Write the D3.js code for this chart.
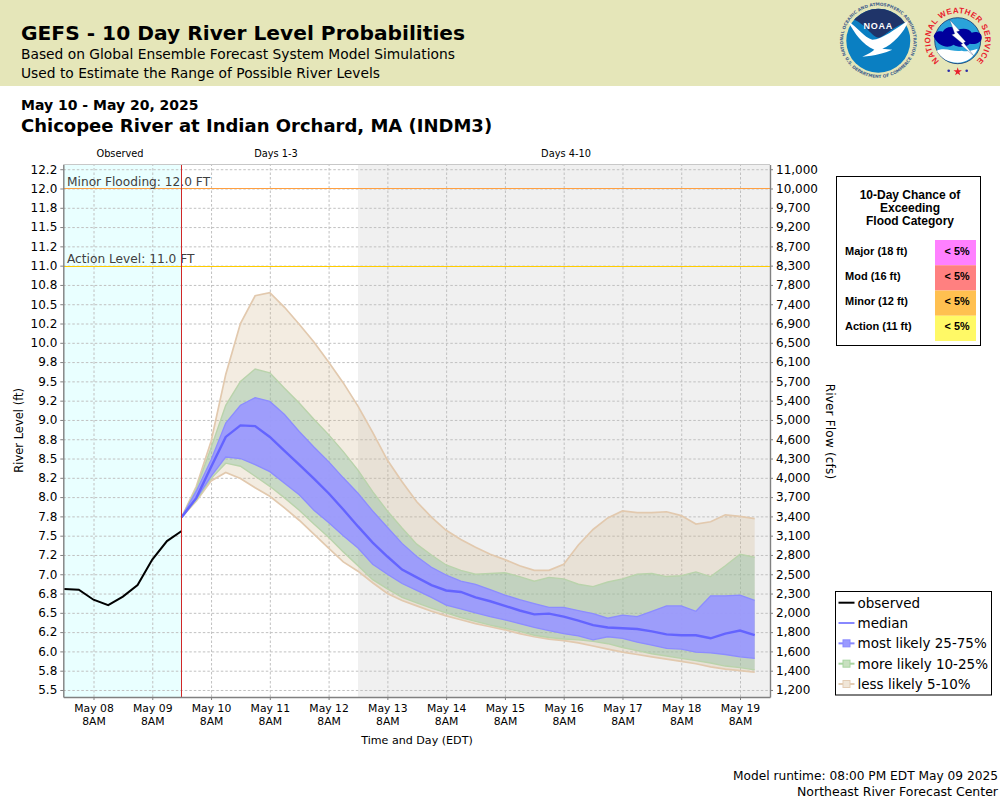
<!DOCTYPE html>
<html><head><meta charset="utf-8">
<script src="https://cdnjs.cloudflare.com/ajax/libs/d3/7.8.5/d3.min.js"></script>
<style>
html,body{margin:0;padding:0;background:#fff}
svg{display:block;font-family:"DejaVu Sans",sans-serif}
</style></head><body>
<svg id="c" width="1000" height="800" viewBox="0 0 1000 800"></svg>
<script>
const levelTicks = [12.25,12,11.75,11.5,11.25,11,10.75,10.5,10.25,10,9.75,9.5,9.25,9,8.75,8.5,8.25,8,7.75,7.5,7.25,7,6.75,6.5,6.25,6,5.75,5.5];
const levelLabels = ["12.2","12.0","11.8","11.5","11.2","11.0","10.8","10.5","10.2","10.0","9.8","9.5","9.2","9.0","8.8","8.5","8.2","8.0","7.8","7.5","7.2","7.0","6.8","6.5","6.2","6.0","5.8","5.5"];
const flowLabels = ["11,000","10,000","9,700","9,200","8,700","8,300","7,800","7,400","6,900","6,500","6,100","5,700","5,400","5,000","4,600","4,300","4,000","3,700","3,400","3,100","2,800","2,500","2,300","2,000","1,800","1,600","1,400","1,200"];
const observed = [6.81,6.80,6.67,6.60,6.71,6.86,7.19,7.43,7.56];
const median = [7.74,7.99,8.39,8.78,8.93,8.92,8.78,8.60,8.42,8.24,8.05,7.84,7.62,7.41,7.23,7.06,6.96,6.86,6.79,6.77,6.70,6.65,6.59,6.53,6.48,6.49,6.45,6.40,6.34,6.31,6.30,6.29,6.26,6.22,6.21,6.21,6.17,6.23,6.27,6.21];
const blueHigh = [7.74,8.08,8.48,8.96,9.19,9.29,9.24,9.07,8.85,8.65,8.46,8.25,8.05,7.82,7.61,7.40,7.23,7.09,6.99,6.91,6.87,6.80,6.73,6.67,6.62,6.57,6.57,6.53,6.49,6.43,6.47,6.45,6.52,6.59,6.59,6.52,6.72,6.72,6.73,6.66];
const blueLow = [7.74,7.98,8.27,8.52,8.50,8.42,8.33,8.18,8.03,7.83,7.67,7.50,7.34,7.13,7.00,6.88,6.79,6.70,6.60,6.55,6.50,6.45,6.41,6.36,6.31,6.27,6.23,6.20,6.15,6.19,6.17,6.12,6.08,6.04,6.03,5.99,5.98,5.96,5.93,5.91];
const greenHigh = [7.74,8.11,8.64,9.19,9.50,9.66,9.61,9.41,9.22,9.01,8.81,8.59,8.35,8.07,7.82,7.60,7.39,7.25,7.12,7.05,7.00,7.01,7.02,6.97,6.91,6.96,6.94,6.87,6.84,6.90,6.94,7.00,7.01,6.97,6.98,7.03,6.97,7.11,7.26,7.22];
const greenLow = [7.74,7.96,8.24,8.44,8.40,8.27,8.14,7.99,7.83,7.65,7.48,7.29,7.11,6.93,6.81,6.70,6.63,6.56,6.50,6.44,6.39,6.34,6.30,6.26,6.21,6.18,6.16,6.15,6.13,6.10,6.05,6.01,5.97,5.94,5.91,5.88,5.85,5.81,5.79,5.76];
const tanHigh = [7.74,8.14,8.72,9.59,10.25,10.61,10.65,10.46,10.24,10.01,9.75,9.48,9.18,8.84,8.48,8.20,7.94,7.74,7.57,7.45,7.35,7.26,7.19,7.11,7.05,7.05,7.13,7.38,7.58,7.73,7.82,7.80,7.80,7.81,7.76,7.65,7.68,7.77,7.75,7.72];
const tanLow = [7.74,7.95,8.21,8.32,8.24,8.12,8.01,7.86,7.70,7.52,7.34,7.16,7.04,6.89,6.75,6.66,6.59,6.52,6.46,6.41,6.36,6.32,6.28,6.23,6.19,6.16,6.14,6.11,6.07,6.03,5.99,5.96,5.93,5.90,5.87,5.84,5.80,5.77,5.75,5.73];
const zoneLabels = ["Observed","Days 1-3","Days 4-10"];
const floodRows = ["Major (18 ft)","Mod (16 ft)","Minor (12 ft)","Action (11 ft)"];
const floodChance = ["< 5%","< 5%","< 5%","< 5%"];
const legendNames = ["observed","median","most likely 25-75%","more likely 10-25%","less likely 5-10%"];

const svg = d3.select("#c");
const HOUR = 3600e3, STEP = 6*HOUR;
const tObs0 = Date.UTC(2025,4,7,20), tNow = Date.UTC(2025,4,9,20), tGrey = Date.UTC(2025,4,12,20);
const L=63.3,R=770,T=164.5,B=697;
const x = d3.scaleUtc().domain([new Date(Date.UTC(2025,4,7,19,40)), new Date(Date.UTC(2025,4,19,20,15))]).range([L,R]);
const y = d3.scaleLinear().domain([5.409,12.311]).range([B,T]);
const dayTicks = d3.range(8,20).map(d=>new Date(Date.UTC(2025,4,d,8)));
const tObs = i=>new Date(tObs0+i*STEP), tFc = i=>new Date(tNow+i*STEP);

// header
svg.append("rect").attr("width",1000).attr("height",86).attr("fill","#e5e6b9");
const txt=(s,xx,yy,size,weight,anchor)=>svg.append("text").attr("x",xx).attr("y",yy).attr("font-size",size).attr("font-weight",weight||"normal").attr("text-anchor",anchor||"start").attr("fill","#000").text(s);
txt("GEFS - 10 Day River Level Probabilities",21,40,20.2,"bold");
txt("Based on Global Ensemble Forecast System Model Simulations",21,59,13.8);
txt("Used to Estimate the Range of Possible River Levels",21,78,13.8);
txt("May 10 - May 20, 2025",21,110,14,"bold");
txt("Chicopee River at Indian Orchard, MA (INDM3)",21,131.5,18,"bold");

// logos
const noaa = svg.append("g").attr("transform","translate(878.3,40.7)");
const defs = svg.append("defs");
defs.append("clipPath").attr("id","noaaClip").append("circle").attr("r",32);
defs.append("path").attr("id","noaaTop").attr("d","M-31.5,16 A35.2,35.2 0 1 1 31.5,16");
defs.append("path").attr("id","noaaBot").attr("d","M-35,14 A38,38 0 0 0 35,14");
noaa.append("circle").attr("r",32).attr("fill","#0a7fc2");
noaa.append("path").attr("clip-path","url(#noaaClip)").attr("fill","#1f3469").attr("d","M-34,-34H34V-20C18,-18 8,-5 0,-3C-8,-5 -15,-20 -28,-22Z");
noaa.append("path").attr("fill","#fff").attr("d","M-30,-19C-22,-15 -14,-3 -6,-1C4,-1 18,-13 30,-20C26,-8 14,4 4,8L14,9C8,12 -4,15 -16,16C-10,13 -6,11 -4,9C-16,4 -24,-8 -30,-19Z");
noaa.append("text").attr("y",-11.5).attr("text-anchor","middle").attr("font-family","Liberation Sans").attr("font-size",9).attr("font-weight","bold").attr("letter-spacing",.8).attr("fill","#fff").text("NOAA");
noaa.append("text").attr("font-size",4.3).attr("fill","#44608c").attr("font-weight","bold").append("textPath").attr("href","#noaaTop").attr("startOffset","50%").attr("text-anchor","middle").text("NATIONAL OCEANIC AND ATMOSPHERIC ADMINISTRATION");
noaa.append("text").attr("font-size",4.3).attr("fill","#44608c").attr("font-weight","bold").append("textPath").attr("href","#noaaBot").attr("startOffset","50%").attr("text-anchor","middle").text("U.S. DEPARTMENT OF COMMERCE");

const nws = svg.append("g").attr("transform","translate(957.7,40.7)");
defs.append("path").attr("id","nwsArc").attr("d","M-12.5,24.5 A27.5,27.5 0 1 1 12.5,24.5");
nws.append("circle").attr("r",23).attr("fill","#2aa3da").attr("stroke","#12326e").attr("stroke-width",.8);
nws.append("path").attr("fill","#fff").attr("d","M-21,10C-12,6 -4,12 4,10C10,12 16,9 20,8C16,17 8,22 0,22C-10,22 -17,17 -21,10Z");
nws.append("path").attr("fill","#00009c").attr("d","M-24,-4C-23,-9 -19,-10 -15,-9C-12,-15 -4,-15 0,-11C6,-13 12,-12 14,-8C20,-10 25,-7 24,-2C23,2 18,4 12,3C8,7 0,7 -4,4C-10,8 -19,6 -24,-4Z");
nws.append("path").attr("fill","#fff").attr("stroke","#12326e").attr("stroke-width",.3).attr("d","M-8,-21L2,-10L-1,-9L8,1L6,2L16,15L3,4L5,3L-6,-6L-3,-7Z");
nws.append("text").attr("font-family","Liberation Sans").attr("font-size",8).attr("font-weight","bold").attr("fill","#e8202c").attr("letter-spacing",.5).append("textPath").attr("href","#nwsArc").attr("startOffset","50%").attr("text-anchor","middle").text("NATIONAL WEATHER SERVICE");
nws.append("path").attr("fill","#e8202c").attr("transform","translate(0,31)").attr("d",d3.symbol(d3.symbolStar,22)());
nws.selectAll("circle.dot").data([-9,9]).join("circle").attr("cx",d=>d).attr("cy",30).attr("r",1.3).attr("fill","#2a2aa8");

// zones
svg.append("rect").attr("x",L).attr("y",T).attr("width",R-L).attr("height",B-T).attr("fill","#fff");
svg.append("rect").attr("x",L).attr("y",T).attr("width",x(new Date(tNow))-L).attr("height",B-T).attr("fill","#e9ffff");
svg.append("rect").attr("x",x(new Date(tGrey))).attr("y",T).attr("width",R-x(new Date(tGrey))).attr("height",B-T).attr("fill","#f0f0f0");

// grid
const gridStyle=g=>{g.select(".domain").remove();g.selectAll("text").remove();g.selectAll("line").attr("stroke","#c0c0c0").attr("stroke-width",1).attr("stroke-dasharray","2.5,2");};
svg.append("g").attr("transform",`translate(${L},0)`).call(d3.axisLeft(y).tickValues(levelTicks).tickSize(-(R-L))).call(gridStyle);
svg.append("g").attr("transform",`translate(0,${B})`).call(d3.axisBottom(x).tickValues(dayTicks).tickSize(-(B-T))).call(gridStyle);

// bands
const band=(hi,lo)=>d3.area().x((d,i)=>x(tFc(i))).y1((d,i)=>y(hi[i])).y0((d,i)=>y(lo[i]))(hi);
const line=(vals,tf)=>d3.line().x((d,i)=>x(tf(i))).y(d=>y(d))(vals);
const drawBand=(hi,lo,fill,op,edge,w)=>{
  svg.append("path").attr("d",band(hi,lo)).attr("fill",fill).attr("fill-opacity",op);
  [hi,lo].forEach(s=>svg.append("path").attr("d",line(s,tFc)).attr("fill","none").attr("stroke",edge).attr("stroke-width",w));
};
drawBand(tanHigh,tanLow,"#d2b48c",.26,"#e2c9ae",1.7);
drawBand(greenHigh,greenLow,"#8cbea0",.42,"#b9d3ab",1.4);
drawBand(blueHigh,blueLow,"#9a98ff",.92,"#8c8cff",1.3);
svg.append("path").attr("d",line(median,tFc)).attr("fill","none").attr("stroke","#6464ff").attr("stroke-width",2.4);
svg.append("path").attr("d",line(observed,tObs)).attr("fill","none").attr("stroke","#000").attr("stroke-width",2);

// flood lines (the 0.5 matches the half-pixel offset d3 gives the axis ticks)
[[12,"#ff9f40"],[11,"#ffcc00"]].forEach(([v,c])=>{
  svg.append("line").attr("x1",L).attr("x2",R).attr("y1",y(v)+.5).attr("y2",y(v)+.5).attr("stroke",c).attr("stroke-width",1).attr("shape-rendering","crispEdges");
});
svg.append("text").attr("x",67).attr("y",y(12)-2.5).attr("font-size",12.2).attr("fill","#404040").text("Minor Flooding: 12.0 FT");
svg.append("text").attr("x",67).attr("y",y(11)-2.5).attr("font-size",12.2).attr("fill","#404040").text("Action Level: 11.0 FT");
svg.append("line").attr("x1",x(new Date(tNow))).attr("x2",x(new Date(tNow))).attr("y1",T).attr("y2",B).attr("stroke","#d02828").attr("stroke-width",1).attr("shape-rendering","crispEdges");

// axes
const axisStyle=g=>{g.select(".domain").attr("stroke","#808080").attr("stroke-width",1.4);g.selectAll("line").attr("stroke","#808080");g.selectAll("text").attr("fill","#000").attr("font-family","DejaVu Sans");};
const flowOf = v=>flowLabels[levelTicks.indexOf(v)], levelOf = v=>levelLabels[levelTicks.indexOf(v)];
svg.append("g").attr("transform",`translate(${L},0)`).call(d3.axisLeft(y).tickValues(levelTicks).tickFormat(levelOf).tickSize(3).tickSizeOuter(0).tickPadding(3)).call(axisStyle).selectAll("text").attr("font-size",12);
svg.append("g").attr("transform",`translate(${R},0)`).call(d3.axisRight(y).tickValues(levelTicks).tickFormat(flowOf).tickSize(3).tickSizeOuter(0).tickPadding(3)).call(axisStyle).selectAll("text").attr("font-size",12);
const xg = svg.append("g").attr("transform",`translate(0,${B})`).call(d3.axisBottom(x).tickValues(dayTicks).tickFormat(d3.utcFormat("%b %d")).tickSize(3).tickSizeOuter(0).tickPadding(4.5)).call(axisStyle);
xg.selectAll("text").attr("font-size",10.8).each(function(){
  const t=d3.select(this), s=t.text(), yy=t.attr("y"); t.text(null);
  t.append("tspan").attr("x",0).attr("y",yy).attr("dy","0.71em").text(s);
  t.append("tspan").attr("x",0).attr("y",yy).attr("dy","1.9em").text("8AM");
});
svg.append("line").attr("x1",L).attr("x2",R).attr("y1",T).attr("y2",T).attr("stroke","#c8c8c8");

// labels
[[zoneLabels[0],120],[zoneLabels[1],276],[zoneLabels[2],566]].forEach(([s,xx])=>txt(s,xx,157,9.8,"normal","middle"));
txt("Time and Day (EDT)",417,744,11.1,"normal","middle");
svg.append("text").attr("transform","translate(22.5,430.4) rotate(-90)").attr("text-anchor","middle").attr("font-size",11.5).text("River Level (ft)");
svg.append("text").attr("transform","translate(826,431.5) rotate(90)").attr("text-anchor","middle").attr("font-size",12).attr("letter-spacing",.2).text("River Flow (cfs)");
txt("Model runtime: 08:00 PM EDT May 09 2025",998,780,12.2,"normal","end");
txt("Northeast River Forecast Center",998,796,12.5,"normal","end");

// flood-chance box
svg.append("rect").attr("x",836.5).attr("y",176.5).attr("width",144).attr("height",169).attr("fill","#fff").attr("stroke","#000").attr("stroke-width",1);
const sansB="Liberation Sans";
["10-Day Chance of","Exceeding","Flood Category"].forEach((s,i)=>{
  svg.append("text").attr("x",910).attr("y",198.7+i*13).attr("text-anchor","middle").attr("font-family",sansB).attr("font-size",12).attr("font-weight","bold").text(s);
});
const rowColors=["#ff80ff","#ff8080","#ffc050","#fff966"];
const rowY=d3.scaleBand().domain(floodRows).range([240,341]);
floodRows.forEach((s,i)=>{
  svg.append("rect").attr("x",935).attr("y",rowY(s)).attr("width",41).attr("height",rowY.bandwidth()).attr("fill",rowColors[i]);
  svg.append("text").attr("x",845).attr("y",rowY(s)+14.5).attr("font-family",sansB).attr("font-size",11).attr("font-weight","bold").text(s);
  svg.append("text").attr("x",969.5).attr("y",rowY(s)+14.5).attr("text-anchor","end").attr("font-family",sansB).attr("font-size",10.8).attr("font-weight","bold").text(floodChance[i]);
});

// legend
svg.append("rect").attr("x",835.5).attr("y",591.5).attr("width",156).attr("height",103.5).attr("fill","#fff").attr("stroke","#000").attr("stroke-width",1);
const lgY=d3.scalePoint().domain(legendNames).range([602.7,684]);
const lgLine=["#000","#8888ff","#8888ff","#a8d4a0","#e3cdb5"], lgFill=[null,null,"#9a9aff","#c8e0c0","#f0e6d8"];
legendNames.forEach((s,i)=>{
  const yy=lgY(s);
  svg.append("line").attr("x1",838.5).attr("x2",854.5).attr("y1",yy).attr("y2",yy).attr("stroke",lgLine[i]).attr("stroke-width",2);
  if(lgFill[i]) svg.append("rect").attr("x",843).attr("y",yy-3.5).attr("width",7).attr("height",7).attr("fill",lgFill[i]).attr("stroke",lgLine[i]);
  svg.append("text").attr("x",857.5).attr("y",yy+5).attr("font-size",13.5).text(s);
});
</script></body></html>
